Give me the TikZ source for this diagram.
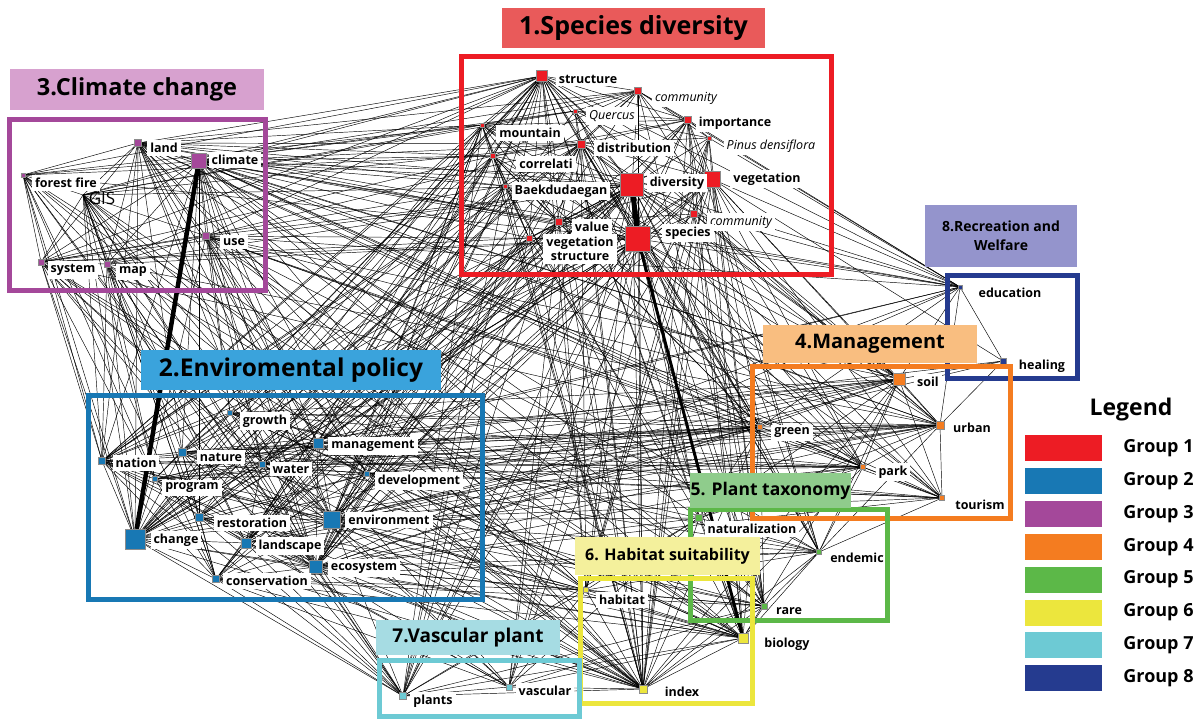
\documentclass[tikz,border=0pt]{standalone}
\usepackage{fontspec}
\setmainfont{Open Sans}
\usetikzlibrary{positioning,backgrounds}

\definecolor{grpone}{HTML}{ED1C24}
\definecolor{grptwo}{HTML}{1878B4}
\definecolor{grpthree}{HTML}{A4489A}
\definecolor{grpfour}{HTML}{F47C20}
\definecolor{grpfive}{HTML}{5CB848}
\definecolor{grpsix}{HTML}{ECE63D}
\definecolor{grpseven}{HTML}{6DCAD4}
\definecolor{grpeight}{HTML}{253B8F}
\definecolor{tone}{HTML}{E95A5A}
\definecolor{ttwo}{HTML}{3AA3DC}
\definecolor{tthree}{HTML}{D7A1CF}
\definecolor{tfour}{HTML}{F9BE80}
\definecolor{tfive}{HTML}{8FCC8C}
\definecolor{tsix}{HTML}{F4F09C}
\definecolor{tseven}{HTML}{A6DCE3}
\definecolor{teight}{HTML}{9494CC}

\begin{document}
\begin{tikzpicture}[
    x=1pt, y=-1pt,
    kw/.style={rectangle, inner sep=0pt, draw=black!45, line width=0.2pt},
    g1/.style={kw, fill=grpone},
    g2/.style={kw, fill=grptwo},
    g3/.style={kw, fill=grpthree},
    g4/.style={kw, fill=grpfour},
    g5/.style={kw, fill=grpfive},
    g6/.style={kw, fill=grpsix},
    g7/.style={kw, fill=grpseven},
    g8/.style={kw, fill=grpeight},
    lbl/.style={fill=white, inner sep=3pt, font=\fontsize{12.5}{14}\selectfont\bfseries},
    ilbl/.style={fill=white, inner sep=3pt, font=\fontsize{12.5}{14}\selectfont\itshape},
    link/.style={draw=black, line width=0.45pt},
    frame/.style={line width=5pt},
    ttl/.style={inner sep=0pt, text=black},
    swatch/.style={minimum width=77pt, minimum height=26pt, inner sep=0pt},
    grplbl/.style={inner sep=0pt, font=\fontsize{18}{20}\selectfont\bfseries}
]

\path [use as bounding box] (0,0) rectangle (1199,718);

% keywords of group 1
\node (structure) [g1, minimum size=11pt] at (542,76) {};
\node (commtop) [g1, minimum size=7pt] at (638,91) {};
\node (quercus) [g1, minimum size=4pt] at (575,111) {};
\node (importance) [g1, minimum size=7pt] at (688,120) {};
\node (mountain) [g1, minimum size=4pt] at (482,125) {};
\node (pinus) [g1, minimum size=4pt] at (709,138) {};
\node (distribution) [g1, minimum size=8pt] at (581,144) {};
\node (correlati) [g1, minimum size=5pt] at (493,156) {};
\node (diversity) [g1, minimum size=23pt] at (632,185) {};
\node (vegetation) [g1, minimum size=16pt] at (712,179) {};
\node (baekdu) [g1, minimum size=4pt] at (505,186) {};
\node (commbot) [g1, minimum size=7pt] at (694,214) {};
\node (value) [g1, minimum size=7pt] at (559,222) {};
\node (species) [g1, minimum size=25pt] at (638,239) {};
\node (vegstruct) [g1, minimum size=6pt] at (529,238) {};

% keywords of group 3
\node (land) [g3, minimum size=7pt] at (138,143) {};
\node (climate) [g3, minimum size=15pt] at (199,161) {};
\node (forestfire) [g3, minimum size=4pt] at (23,175) {};
\coordinate (gis) at (83,195);
\node (use) [g3, minimum size=7pt] at (206,236) {};
\node (system) [g3, minimum size=6pt] at (41,262) {};
\node (map) [g3, minimum size=6pt] at (107,264) {};

% keywords of group 2
\node (growth) [g2, minimum size=5pt] at (230,413) {};
\node (management) [g2, minimum size=10pt] at (318,443) {};
\node (nation) [g2, minimum size=7pt] at (102,461) {};
\node (nature) [g2, minimum size=8pt] at (182,452) {};
\node (water) [g2, minimum size=6pt] at (262,464) {};
\node (program) [g2, minimum size=5pt] at (155,479) {};
\node (development) [g2, minimum size=5pt] at (367,474) {};
\node (restoration) [g2, minimum size=8pt] at (199,517) {};
\node (environment) [g2, minimum size=17pt] at (332,520) {};
\node (change) [g2, minimum size=20pt] at (135,539) {};
\node (landscape) [g2, minimum size=10pt] at (246,543) {};
\node (ecosystem) [g2, minimum size=13pt] at (316,567) {};
\node (conservation) [g2, minimum size=7pt] at (216,579) {};

% keywords of groups 4 to 8
\node (soil) [g4, minimum size=12pt] at (899,379) {};
\node (urban) [g4, minimum size=8pt] at (940,425) {};
\node (green) [g4, minimum size=5pt] at (760,427) {};
\node (park) [g4, minimum size=5pt] at (863,467) {};
\node (tourism) [g4, minimum size=5pt] at (942,498) {};
\node (education) [g8, minimum size=4pt] at (960,287) {};
\node (healing) [g8, minimum size=6pt] at (1003,361) {};
\node (naturalization) [g5, minimum size=7pt] at (699,518) {};
\node (endemic) [g5, minimum size=5pt] at (819,552) {};
\node (rare) [g5, minimum size=6pt] at (764,606) {};
\node (habitat) [g6, minimum size=5pt] at (586,590) {};
\node (biology) [g6, minimum size=10pt] at (743,638) {};
\node (index) [g6, minimum size=8pt] at (643,689) {};
\node (plants) [g7, minimum size=7pt] at (403,696) {};
\node (vascular) [g7, minimum size=6pt] at (509,687) {};

\begin{scope}[on background layer]
\fill [white] (0,0) rectangle (1199,718);
% co-occurrence links
\path [link] (structure) edge (commtop) edge (quercus) edge (mountain) edge (distribution) edge (correlati) edge (diversity) edge (species) edge (importance) edge (vegetation) edge (value) edge (vegstruct) edge (baekdu) edge (land) edge (climate) edge (forestfire) edge (gis) edge (use) edge (system) edge (map) edge (nation) edge (nature) edge (change) edge (environment) edge (ecosystem) edge (management) edge (growth) edge (education) edge (soil) edge (urban) edge (index) edge (biology) edge (plants) edge (habitat) edge (program) edge (landscape) edge (water) edge (green) edge (naturalization);
\path [link] (commtop) edge (quercus) edge (importance) edge (distribution) edge (diversity) edge (species) edge (vegetation) edge (pinus) edge (mountain) edge (correlati) edge (education) edge (land) edge (climate) edge (change) edge (ecosystem) edge (index) edge (rare) edge (nation) edge (park);
\path [link] (quercus) edge (distribution) edge (mountain) edge (diversity) edge (species) edge (pinus) edge (importance) edge (vegetation) edge (climate) edge (gis) edge (index) edge (endemic) edge (conservation);
\path [link] (importance) edge (pinus) edge (diversity) edge (species) edge (vegetation) edge (distribution) edge (commbot) edge (value) edge (education) edge (mountain) edge (correlati) edge (index) edge (biology) edge (rare) edge (endemic) edge (ecosystem) edge (landscape) edge (plants);
\path [link] (mountain) edge (distribution) edge (correlati) edge (baekdu) edge (diversity) edge (species) edge (vegstruct) edge (value) edge (land) edge (climate) edge (forestfire) edge (gis) edge (nation) edge (change) edge (environment) edge (ecosystem) edge (management) edge (index) edge (soil) edge (plants) edge (restoration) edge (development) edge (tourism);
\path [link] (pinus) edge (diversity) edge (species) edge (vegetation) edge (commbot) edge (distribution) edge (education) edge (index) edge (habitat) edge (rare) edge (vascular);
\path [link] (distribution) edge (correlati) edge (diversity) edge (species) edge (vegetation) edge (baekdu) edge (value) edge (commbot) edge (vegstruct) edge (land) edge (climate) edge (use) edge (gis) edge (nation) edge (change) edge (nature) edge (environment) edge (ecosystem) edge (index) edge (habitat) edge (biology) edge (plants) edge (rare) edge (endemic) edge (soil) edge (green) edge (conservation) edge (vascular);
\path [link] (correlati) edge (baekdu) edge (diversity) edge (species) edge (value) edge (vegstruct) edge (land) edge (climate) edge (forestfire) edge (system) edge (nation) edge (change) edge (environment) edge (index) edge (biology) edge (green) edge (landscape) edge (water) edge (park);
\path [link] (diversity) edge (vegetation) edge (baekdu) edge (commbot) edge (value) edge (vegstruct) edge (climate) edge (land) edge (use) edge (map) edge (system) edge (gis) edge (change) edge (nation) edge (nature) edge (water) edge (growth) edge (environment) edge (ecosystem) edge (conservation) edge (restoration) edge (landscape) edge (management) edge (development) edge (soil) edge (green) edge (park) edge (urban) edge (tourism) edge (endemic) edge (rare) edge (naturalization) edge (index) edge (habitat) edge (plants) edge (vascular) edge (education);
\path [link] (vegetation) edge (commbot) edge (species) edge (value) edge (education) edge (soil) edge (urban) edge (park) edge (tourism) edge (green) edge (endemic) edge (rare) edge (index) edge (biology) edge (climate) edge (change) edge (ecosystem) edge (environment) edge (management) edge (healing) edge (plants) edge (habitat);
\path [link] (baekdu) edge (species) edge (value) edge (vegstruct) edge (climate) edge (land) edge (system) edge (change) edge (nation) edge (ecosystem) edge (conservation) edge (index) edge (plants) edge (restoration) edge (development) edge (naturalization);
\path [link] (commbot) edge (species) edge (value) edge (education) edge (index) edge (biology) edge (rare) edge (endemic) edge (urban) edge (soil) edge (habitat) edge (environment);
\path [link] (value) edge (species) edge (vegstruct) edge (climate) edge (change) edge (environment) edge (ecosystem) edge (management) edge (landscape) edge (index) edge (habitat) edge (green) edge (vascular) edge (tourism);
\path [link] (species) edge (vegstruct) edge (climate) edge (land) edge (use) edge (map) edge (system) edge (forestfire) edge (change) edge (nation) edge (environment) edge (ecosystem) edge (conservation) edge (restoration) edge (management) edge (water) edge (nature) edge (soil) edge (urban) edge (green) edge (park) edge (tourism) edge (education) edge (index) edge (habitat) edge (rare) edge (endemic) edge (naturalization) edge (plants) edge (vascular);
\path [link] (vegstruct) edge (climate) edge (change) edge (ecosystem) edge (index) edge (system) edge (plants) edge (water) edge (landscape) edge (park) edge (rare);
\path [link] (land) edge (climate) edge (use) edge (map) edge (system) edge (gis) edge (forestfire) edge (change) edge (nation) edge (nature) edge (water) edge (environment) edge (management) edge (ecosystem) edge (development) edge (soil) edge (urban) edge (green) edge (park) edge (index) edge (education) edge (rare) edge (endemic) edge (habitat);
\path [link] (climate) edge (use) edge (map) edge (system) edge (gis) edge (forestfire) edge (nation) edge (nature) edge (growth) edge (water) edge (environment) edge (ecosystem) edge (management) edge (development) edge (restoration) edge (soil) edge (urban) edge (green) edge (education) edge (index) edge (biology) edge (tourism) edge (park) edge (naturalization) edge (rare);
\path [link] (forestfire) edge (gis) edge (system) edge (map) edge (change) edge (nation) edge (program) edge (ecosystem) edge (conservation) edge (plants) edge (index) edge (habitat) edge (biology);
\path [link] (gis) edge (system) edge (map) edge (use) edge (change) edge (nation) edge (nature) edge (program) edge (environment) edge (ecosystem) edge (restoration) edge (conservation) edge (landscape) edge (plants) edge (index) edge (habitat) edge (biology) edge (vascular);
\path [link] (use) edge (map) edge (system) edge (change) edge (environment) edge (management) edge (water) edge (growth) edge (development) edge (ecosystem) edge (soil) edge (urban) edge (green) edge (park) edge (index) edge (education) edge (tourism) edge (rare) edge (endemic) edge (biology);
\path [link] (system) edge (map) edge (change) edge (nation) edge (environment) edge (management) edge (ecosystem) edge (program) edge (plants) edge (vascular) edge (index) edge (habitat) edge (green);
\path [link] (map) edge (change) edge (nation) edge (environment) edge (ecosystem) edge (landscape) edge (conservation) edge (program) edge (index) edge (plants) edge (biology) edge (urban);
\path [link] (change) edge (nation) edge (nature) edge (program) edge (restoration) edge (landscape) edge (conservation) edge (ecosystem) edge (environment) edge (management) edge (growth) edge (water) edge (development) edge (soil) edge (urban) edge (index) edge (plants) edge (biology);
\path [link] (nation) edge (nature) edge (program) edge (growth) edge (management) edge (water) edge (environment) edge (ecosystem) edge (conservation) edge (plants) edge (vascular) edge (index) edge (habitat) edge (green) edge (park) edge (rare) edge (tourism);
\path [link] (growth) edge (nature) edge (management) edge (water) edge (environment) edge (development) edge (green) edge (urban) edge (soil) edge (park) edge (naturalization) edge (endemic) edge (biology);
\path [link] (management) edge (nature) edge (water) edge (development) edge (environment) edge (restoration) edge (landscape) edge (ecosystem) edge (soil) edge (urban) edge (green) edge (park) edge (tourism) edge (index) edge (biology) edge (education) edge (healing) edge (program);
\path [link] (nature) edge (water) edge (program) edge (environment) edge (restoration) edge (ecosystem) edge (conservation) edge (landscape) edge (green) edge (park) edge (soil) edge (urban) edge (index) edge (rare) edge (tourism);
\path [link] (water) edge (program) edge (development) edge (environment) edge (restoration) edge (ecosystem) edge (landscape) edge (soil) edge (urban) edge (green) edge (park) edge (index) edge (endemic);
\path [link] (program) edge (restoration) edge (environment) edge (ecosystem) edge (conservation) edge (landscape) edge (development) edge (green) edge (urban) edge (education) edge (biology);
\path [link] (development) edge (environment) edge (ecosystem) edge (landscape) edge (restoration) edge (soil) edge (urban) edge (green) edge (park) edge (tourism) edge (index) edge (biology);
\path [link] (restoration) edge (environment) edge (landscape) edge (ecosystem) edge (conservation) edge (index) edge (habitat) edge (plants) edge (biology);
\path [link] (environment) edge (landscape) edge (ecosystem) edge (conservation) edge (soil) edge (urban) edge (green) edge (park) edge (tourism) edge (education) edge (healing) edge (index) edge (biology) edge (habitat) edge (plants) edge (vascular) edge (endemic) edge (rare) edge (naturalization);
\path [link] (landscape) edge (ecosystem) edge (conservation) edge (green) edge (park) edge (urban) edge (index) edge (plants) edge (vascular);
\path [link] (ecosystem) edge (conservation) edge (soil) edge (urban) edge (green) edge (park) edge (tourism) edge (index) edge (biology) edge (habitat) edge (plants) edge (vascular) edge (rare) edge (endemic) edge (naturalization) edge (education);
\path [link] (conservation) edge (index) edge (biology) edge (habitat) edge (plants) edge (vascular) edge (rare) edge (endemic) edge (green);
\path [link] (soil) edge (urban) edge (green) edge (park) edge (tourism) edge (healing) edge (education) edge (index) edge (biology) edge (endemic) edge (naturalization);
\path [link] (urban) edge (tourism) edge (green) edge (park) edge (education) edge (healing) edge (naturalization) edge (endemic);
\path [link] (green) edge (park) edge (tourism) edge (naturalization) edge (biology) edge (index) edge (rare) edge (education);
\path [link] (park) edge (tourism) edge (naturalization) edge (endemic) edge (index);
\path [link] (education) edge (healing);
\path [link] (biology) edge (index) edge (habitat) edge (rare) edge (endemic) edge (naturalization) edge (plants) edge (vascular);
\path [link] (index) edge (habitat) edge (plants) edge (vascular) edge (rare) edge (endemic) edge (naturalization);
\path [link] (habitat) edge (plants) edge (vascular) edge (rare) edge (naturalization) edge (endemic);
\path [link] (plants) edge (vascular) edge (rare) edge (naturalization);
\path [link] (rare) edge (endemic) edge (naturalization);
\path [link] (endemic) edge (naturalization) edge (tourism);
\path [link] (vascular) edge (rare) edge (naturalization);
% strongest links
\draw [link, line width=4.5pt] (climate) -- (change);
\draw [link, line width=5pt] (diversity) -- (species);
\draw [link, line width=3pt] (species) -- (biology);
\end{scope}

% labels
\node (structure-l) [lbl] at (588,79) {structure};
\node (commtop-l) [ilbl] at (686,98) {community};
\node (quercus-l) [ilbl] at (612,116) {Quercus};
\node (importance-l) [lbl] at (735,123) {importance};
\node (mountain-l) [lbl] at (530,133) {mountain};
\node (pinus-l) [ilbl] at (771,146) {Pinus densiflora};
\node (distribution-l) [lbl] at (634,148) {distribution};
\node (correlati-l) [lbl] at (546,164) {correlati};
\node (diversity-l) [lbl] at (677,183) {diversity};
\node (vegetation-l) [lbl] at (767,179) {vegetation};
\node (baekdu-l) [lbl] at (561,191) {Baekdudaegan};
\node (commbot-l) [ilbl] at (741,222) {community};
\node (value-l) [lbl] at (592,227) {value};
\node (species-l) [lbl] at (688,233) {species};
\node (vegstruct-l) [lbl, align=center] at (580,249) {vegetation\\structure};

\node (land-l) [lbl] at (164,148) {land};
\node (climate-l) [lbl] at (235,160) {climate};
\node (forestfire-l) [lbl] at (66,183) {forest fire};
\node (gis-l) [inner sep=0pt, font=\fontsize{17}{17}\selectfont] at (102,198) {GIS};
\node (use-l) [lbl] at (234,242) {use};
\node (system-l) [lbl] at (73,270) {system};
\node (map-l) [lbl] at (133,272) {map};

\node (growth-l) [lbl] at (265,421) {growth};
\node (management-l) [lbl] at (373,446) {management};
\node (nation-l) [lbl] at (136,463) {nation};
\node (nature-l) [lbl] at (221,457) {nature};
\node (water-l) [lbl] at (291,469) {water};
\node (program-l) [lbl] at (192,488) {program};
\node (development-l) [lbl] at (419,481) {development};
\node (restoration-l) [lbl] at (252,523) {restoration};
\node (environment-l) [lbl] at (389,520) {environment};
\node (change-l) [lbl] at (176,540) {change};
\node (landscape-l) [lbl] at (290,546) {landscape};
\node (ecosystem-l) [lbl] at (364,568) {ecosystem};
\node (conservation-l) [lbl] at (267,581) {conservation};

\node (soil-l) [lbl] at (928,382) {soil};
\node (urban-l) [lbl] at (972,428) {urban};
\node (green-l) [lbl] at (792,433) {green};
\node (park-l) [lbl] at (893,472) {park};
\node (tourism-l) [lbl] at (980,505) {tourism};
\node (education-l) [lbl] at (1010,293) {education};
\node (healing-l) [lbl] at (1042,366) {healing};
\node (naturalization-l) [lbl] at (752,529) {naturalization};
\node (endemic-l) [lbl] at (857,558) {endemic};
\node (rare-l) [lbl] at (789,611) {rare};
\node (habitat-l) [lbl] at (622,600) {habitat};
\node (biology-l) [lbl] at (787,644) {biology};
\node (index-l) [lbl] at (682,692) {index};
\node (plants-l) [lbl] at (433,701) {plants};
\node (vascular-l) [lbl] at (545,691) {vascular};

% group frames
\draw [frame, draw=grpone] (461.5,56.5) rectangle (831.5,274.5);
\draw [frame, draw=grpthree] (9.5,119.5) rectangle (265.5,290.5);
\draw [frame, draw=grptwo] (88.5,395.5) rectangle (482.5,599.5);
\draw [frame, draw=grpeight] (947.5,275.5) rectangle (1077.5,378.5);
\draw [frame, draw=grpfour] (752.5,366.5) rectangle (1010.5,518.5);
\draw [frame, draw=grpfive] (690.5,509.5) rectangle (887.5,620.5);
\draw [frame, draw=grpsix] (580,578.5) rectangle (752,703);
\draw [frame, draw=grpseven] (379.5,660) rectangle (579.5,716);

% group titles
\node (title1) [ttl, fill=tone, minimum width=263pt, minimum height=40pt, font=\fontsize{25}{28}\selectfont\bfseries] at (633.5,28) {1.Species diversity};
\node (title3) [ttl, fill=tthree, minimum width=254pt, minimum height=41pt, font=\fontsize{23.5}{26}\selectfont\bfseries] at (137,89.5) {3.Climate change};
\node (title2) [ttl, fill=ttwo, minimum width=300pt, minimum height=40pt, font=\fontsize{24.5}{27}\selectfont\bfseries] at (291,370) {2.Enviromental policy};
\node (title4) [ttl, fill=tfour, minimum width=214pt, minimum height=38pt, font=\fontsize{20}{22}\selectfont\bfseries] at (870,344) {4.Management};
\node (title8) [ttl, fill=teight, minimum width=152pt, minimum height=62pt, align=center, font=\fontsize{14}{19}\selectfont\bfseries] at (1001,236) {8.Recreation and\\Welfare};
\node (title5) [ttl, fill=tfive, minimum width=161pt, minimum height=35pt, font=\fontsize{17.5}{20}\selectfont\bfseries] at (770.5,490.5) {5. Plant taxonomy};
\node (title6) [ttl, fill=tsix, minimum width=185pt, minimum height=38pt, font=\fontsize{16}{18}\selectfont\bfseries] at (667.5,556) {6. Habitat suitability};
\node (title7) [ttl, fill=tseven, minimum width=184pt, minimum height=35pt, font=\fontsize{19}{21}\selectfont\bfseries] at (468,637.5) {7.Vascular plant};

% legend
\node (legend) [inner sep=0pt, font=\fontsize{23}{25}\selectfont\bfseries] at (1131,410) {Legend};
\node (sw1) [swatch, fill=grpone] at (1063.5,448) {};
\node (sw2) [swatch, fill=grptwo, below=6.5pt of sw1] {};
\node (sw3) [swatch, fill=grpthree, below=6.5pt of sw2] {};
\node (sw4) [swatch, fill=grpfour, below=6.5pt of sw3] {};
\node (sw5) [swatch, fill=grpfive, below=6.5pt of sw4] {};
\node (sw6) [swatch, fill=grpsix, below=6.5pt of sw5] {};
\node (sw7) [swatch, fill=grpseven, below=6.5pt of sw6] {};
\node (sw8) [swatch, fill=grpeight, below=6.5pt of sw7] {};
\node (grp1) [grplbl, right=21pt of sw1] {Group 1};
\node (grp2) [grplbl, right=21pt of sw2] {Group 2};
\node (grp3) [grplbl, right=21pt of sw3] {Group 3};
\node (grp4) [grplbl, right=21pt of sw4] {Group 4};
\node (grp5) [grplbl, right=21pt of sw5] {Group 5};
\node (grp6) [grplbl, right=21pt of sw6] {Group 6};
\node (grp7) [grplbl, right=21pt of sw7] {Group 7};
\node (grp8) [grplbl, right=21pt of sw8] {Group 8};

\end{tikzpicture}
\end{document}
